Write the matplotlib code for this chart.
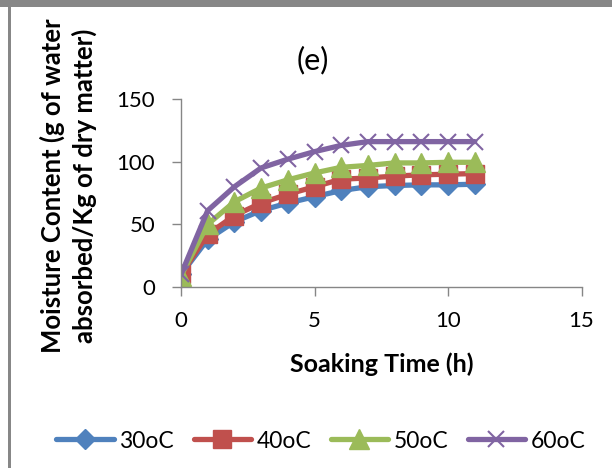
import matplotlib
matplotlib.use("Agg")
import matplotlib.pyplot as plt
from matplotlib.patches import Rectangle

plt.rcParams['font.family'] = ['Lato', 'DejaVu Sans']

# ---- data ----
time_h = [0, 1, 2, 3, 4, 5, 6, 7, 8, 9, 10, 11]
mc_30 = [10, 38, 52, 61, 67, 72, 77, 80, 81, 81.5, 81.5, 82]
mc_40 = [10, 42, 57, 67, 74, 80, 86, 87, 88.5, 89.5, 90, 90.5]
mc_50 = [9, 50, 68, 79, 85.5, 91, 95.5, 97, 99, 99, 99.5, 99.5]
mc_60 = [10, 61, 80, 95, 102, 108, 113, 116, 116, 116, 116, 116]
series_labels = ['30oC', '40oC', '50oC', '60oC']
x_ticks = [0, 5, 10, 15]
y_ticks = [0, 50, 100, 150]

colors = ['#4F81BD', '#C0504D', '#9BBB59', '#8064A2']
markers = ['D', 's', '^', 'x']
msizes = [10, 13.5, 14.5, 12]

fig = plt.figure(figsize=(6.12, 4.68), dpi=100)
ax = fig.add_axes([181/612, 1-287/468, 400.5/612, 188/468])

for ys, lab, c, m, ms in zip([mc_30, mc_40, mc_50, mc_60], series_labels, colors, markers, msizes):
    ax.plot(time_h, ys, color=c, lw=3.8, marker=m, ms=ms, mfc=c, mec=c,
            mew=1.5 if m == 'x' else 1, label=lab, solid_capstyle='round',
            solid_joinstyle='round')

ax.set_xlim(0, 15)
ax.set_ylim(0, 150)
ax.set_xticks(x_ticks)
ax.set_yticks(y_ticks)
for s in ['top', 'right']:
    ax.spines[s].set_visible(False)
for s in ['left', 'bottom']:
    ax.spines[s].set_color('#868686')
    ax.spines[s].set_linewidth(1.0)
ax.tick_params(axis='both', colors='#868686', labelcolor='black', length=6.5,
               width=1.0, labelsize=16)
ax.tick_params(axis='x', pad=11)
ax.tick_params(axis='y', pad=12)

ax.set_title('(e)', fontsize=22, pad=0, x=(313-181)/400.5, y=1 + (99-60)/188,
             va='center')
ax.set_xlabel('Soaking Time (h)', fontsize=18, fontweight='bold', labelpad=15)
ax.set_ylabel('Moisture Content (g of water\nabsorbed/Kg of dry matter)',
              fontsize=18.5, fontweight='bold', va='center', ma='center',
              linespacing=1.32)
ax.yaxis.set_label_coords((68.5-181)/400.5, (287-186)/188)

fig.legend(loc='center', bbox_to_anchor=(321/612, 1-441/468), ncol=4,
           frameon=False, fontsize=16.5, handlelength=2.5, handletextpad=0.25,
           columnspacing=0.85)

# decorative border
fig.add_artist(Rectangle((0, 1-7/468), 1, 7/468, transform=fig.transFigure,
                         color='#878787', lw=0))
fig.add_artist(Rectangle((8/612, 0), 3/612, 1, transform=fig.transFigure,
                         color='#878787', lw=0))

fig.savefig('out.png', dpi=100)
